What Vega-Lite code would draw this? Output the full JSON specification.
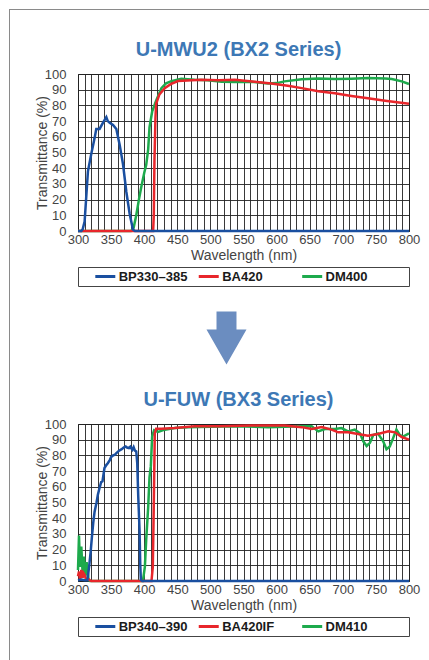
{
  "$schema": "https://vega.github.io/schema/vega-lite/v6.json",
  "background": "white",
  "padding": {"left": 9, "top": 9, "right": 0, "bottom": 0},
  "spacing": 0,
  "config": {
    "font": "Liberation Sans",
    "view": {"stroke": "#222", "strokeWidth": 1},
    "axis": {
      "ticks": false,
      "domain": false,
      "grid": true,
      "gridColor": "#222",
      "gridWidth": 0.9,
      "gridOpacity": 1,
      "labelFontSize": 13,
      "labelColor": "#444",
      "labelOverlap": false,
      "labelFlush": false,
      "titleFontSize": 14,
      "titleFontWeight": "normal",
      "titleColor": "#444"
    },
    "title": {"fontSize": 20, "fontWeight": "bold", "color": "#3d78b5", "anchor": "middle", "baseline": "alphabetic", "offset": 8, "dx": -5}
  },
  "datasets": {
    "top": [
      {"s": "DM400", "w": 300, "t": 0}, {"s": "DM400", "w": 380, "t": 0}, {"s": "DM400", "w": 384, "t": 2}, {"s": "DM400", "w": 388, "t": 10}, {"s": "DM400", "w": 392, "t": 20}, {"s": "DM400", "w": 395.6, "t": 28}, {"s": "DM400", "w": 400, "t": 37}, {"s": "DM400", "w": 403, "t": 42}, {"s": "DM400", "w": 406, "t": 52}, {"s": "DM400", "w": 408, "t": 66}, {"s": "DM400", "w": 412, "t": 76}, {"s": "DM400", "w": 418, "t": 83}, {"s": "DM400", "w": 426, "t": 91}, {"s": "DM400", "w": 433, "t": 94}, {"s": "DM400", "w": 441, "t": 95.5}, {"s": "DM400", "w": 456, "t": 97}, {"s": "DM400", "w": 476, "t": 96.4}, {"s": "DM400", "w": 496, "t": 96}, {"s": "DM400", "w": 517, "t": 95}, {"s": "DM400", "w": 537, "t": 94.9}, {"s": "DM400", "w": 562, "t": 95}, {"s": "DM400", "w": 587, "t": 94}, {"s": "DM400", "w": 600, "t": 94.2}, {"s": "DM400", "w": 612, "t": 95.3}, {"s": "DM400", "w": 638, "t": 96.6}, {"s": "DM400", "w": 663, "t": 97.2}, {"s": "DM400", "w": 688, "t": 96.8}, {"s": "DM400", "w": 713, "t": 97}, {"s": "DM400", "w": 738, "t": 97.4}, {"s": "DM400", "w": 764, "t": 97.2}, {"s": "DM400", "w": 774, "t": 96.8}, {"s": "DM400", "w": 789, "t": 95.3}, {"s": "DM400", "w": 800, "t": 93.6},
      {"s": "BA420", "w": 300, "t": 0}, {"s": "BA420", "w": 413.5, "t": 0}, {"s": "BA420", "w": 414.5, "t": 10}, {"s": "BA420", "w": 415.5, "t": 45}, {"s": "BA420", "w": 417, "t": 72}, {"s": "BA420", "w": 418, "t": 81}, {"s": "BA420", "w": 423, "t": 87}, {"s": "BA420", "w": 431, "t": 91}, {"s": "BA420", "w": 440, "t": 93.5}, {"s": "BA420", "w": 451, "t": 95.5}, {"s": "BA420", "w": 486, "t": 96.4}, {"s": "BA420", "w": 512, "t": 96}, {"s": "BA420", "w": 537, "t": 96.4}, {"s": "BA420", "w": 567, "t": 95}, {"s": "BA420", "w": 592, "t": 94}, {"s": "BA420", "w": 617, "t": 92.5}, {"s": "BA420", "w": 638, "t": 91}, {"s": "BA420", "w": 663, "t": 89}, {"s": "BA420", "w": 688, "t": 87.7}, {"s": "BA420", "w": 713, "t": 86}, {"s": "BA420", "w": 738, "t": 84.5}, {"s": "BA420", "w": 764, "t": 83}, {"s": "BA420", "w": 800, "t": 81},
      {"s": "BP330–385", "w": 300, "t": 0}, {"s": "BP330–385", "w": 305, "t": 0}, {"s": "BP330–385", "w": 307, "t": 1}, {"s": "BP330–385", "w": 310, "t": 6}, {"s": "BP330–385", "w": 315, "t": 38}, {"s": "BP330–385", "w": 320, "t": 49}, {"s": "BP330–385", "w": 325, "t": 59}, {"s": "BP330–385", "w": 327.6, "t": 65}, {"s": "BP330–385", "w": 332.6, "t": 65}, {"s": "BP330–385", "w": 337.8, "t": 69}, {"s": "BP330–385", "w": 342.8, "t": 72.5}, {"s": "BP330–385", "w": 345, "t": 70}, {"s": "BP330–385", "w": 347.8, "t": 69}, {"s": "BP330–385", "w": 352.9, "t": 67.5}, {"s": "BP330–385", "w": 357.9, "t": 65}, {"s": "BP330–385", "w": 362.9, "t": 55}, {"s": "BP330–385", "w": 368, "t": 42.5}, {"s": "BP330–385", "w": 373, "t": 25}, {"s": "BP330–385", "w": 378, "t": 11}, {"s": "BP330–385", "w": 383, "t": 1}, {"s": "BP330–385", "w": 386, "t": 0}, {"s": "BP330–385", "w": 800, "t": 0}
    ],
    "bottom": [
      {"s": "DM410", "w": 300, "t": 7}, {"s": "DM410", "w": 301.5, "t": 29}, {"s": "DM410", "w": 303, "t": 9}, {"s": "DM410", "w": 305, "t": 22}, {"s": "DM410", "w": 307, "t": 5}, {"s": "DM410", "w": 309, "t": 15.5}, {"s": "DM410", "w": 311, "t": 3}, {"s": "DM410", "w": 313, "t": 12}, {"s": "DM410", "w": 316, "t": 0.6}, {"s": "DM410", "w": 318, "t": 0}, {"s": "DM410", "w": 398, "t": 0}, {"s": "DM410", "w": 401, "t": 9}, {"s": "DM410", "w": 403, "t": 26}, {"s": "DM410", "w": 406, "t": 47}, {"s": "DM410", "w": 408, "t": 66}, {"s": "DM410", "w": 410, "t": 73}, {"s": "DM410", "w": 412, "t": 92}, {"s": "DM410", "w": 415, "t": 96}, {"s": "DM410", "w": 421, "t": 95}, {"s": "DM410", "w": 431, "t": 96.4}, {"s": "DM410", "w": 446, "t": 97.4}, {"s": "DM410", "w": 466, "t": 98}, {"s": "DM410", "w": 500, "t": 98.3}, {"s": "DM410", "w": 537, "t": 98.5}, {"s": "DM410", "w": 587, "t": 98}, {"s": "DM410", "w": 638, "t": 98.5}, {"s": "DM410", "w": 653, "t": 98.5}, {"s": "DM410", "w": 663, "t": 95.3}, {"s": "DM410", "w": 673, "t": 96.8}, {"s": "DM410", "w": 688, "t": 96.8}, {"s": "DM410", "w": 698, "t": 97.4}, {"s": "DM410", "w": 708, "t": 95.3}, {"s": "DM410", "w": 718, "t": 96.4}, {"s": "DM410", "w": 726, "t": 94}, {"s": "DM410", "w": 731, "t": 89}, {"s": "DM410", "w": 736, "t": 86}, {"s": "DM410", "w": 741, "t": 88}, {"s": "DM410", "w": 746, "t": 93}, {"s": "DM410", "w": 753, "t": 94}, {"s": "DM410", "w": 761, "t": 89}, {"s": "DM410", "w": 766, "t": 84}, {"s": "DM410", "w": 771, "t": 85.7}, {"s": "DM410", "w": 776, "t": 91}, {"s": "DM410", "w": 781, "t": 96.4}, {"s": "DM410", "w": 786, "t": 93}, {"s": "DM410", "w": 791, "t": 92}, {"s": "DM410", "w": 800, "t": 94},
      {"s": "BA420IF", "w": 300, "t": 3}, {"s": "BA420IF", "w": 301.5, "t": 6}, {"s": "BA420IF", "w": 303, "t": 1}, {"s": "BA420IF", "w": 305, "t": 7}, {"s": "BA420IF", "w": 307, "t": 2}, {"s": "BA420IF", "w": 308.5, "t": 5}, {"s": "BA420IF", "w": 310, "t": 4}, {"s": "BA420IF", "w": 312, "t": 1}, {"s": "BA420IF", "w": 315, "t": 1.5}, {"s": "BA420IF", "w": 318, "t": 0.5}, {"s": "BA420IF", "w": 320, "t": 0}, {"s": "BA420IF", "w": 411, "t": 0}, {"s": "BA420IF", "w": 413, "t": 9}, {"s": "BA420IF", "w": 414, "t": 35}, {"s": "BA420IF", "w": 415, "t": 64}, {"s": "BA420IF", "w": 416, "t": 94}, {"s": "BA420IF", "w": 418, "t": 97}, {"s": "BA420IF", "w": 426, "t": 97}, {"s": "BA420IF", "w": 446, "t": 97.4}, {"s": "BA420IF", "w": 476, "t": 98.5}, {"s": "BA420IF", "w": 512, "t": 98.5}, {"s": "BA420IF", "w": 562, "t": 99}, {"s": "BA420IF", "w": 612, "t": 99}, {"s": "BA420IF", "w": 638, "t": 98}, {"s": "BA420IF", "w": 653, "t": 96.8}, {"s": "BA420IF", "w": 668, "t": 98}, {"s": "BA420IF", "w": 683, "t": 96.4}, {"s": "BA420IF", "w": 693, "t": 94.7}, {"s": "BA420IF", "w": 708, "t": 94.7}, {"s": "BA420IF", "w": 723, "t": 93.6}, {"s": "BA420IF", "w": 738, "t": 92.5}, {"s": "BA420IF", "w": 753, "t": 93.6}, {"s": "BA420IF", "w": 769, "t": 95.3}, {"s": "BA420IF", "w": 779, "t": 94.7}, {"s": "BA420IF", "w": 789, "t": 91.7}, {"s": "BA420IF", "w": 800, "t": 90},
      {"s": "BP340–390", "w": 300, "t": 0.5}, {"s": "BP340–390", "w": 305, "t": 1}, {"s": "BP340–390", "w": 310, "t": 0.5}, {"s": "BP340–390", "w": 314, "t": 0.5}, {"s": "BP340–390", "w": 315, "t": 3}, {"s": "BP340–390", "w": 317, "t": 10}, {"s": "BP340–390", "w": 319, "t": 18}, {"s": "BP340–390", "w": 321, "t": 28}, {"s": "BP340–390", "w": 323, "t": 37}, {"s": "BP340–390", "w": 325, "t": 44}, {"s": "BP340–390", "w": 328, "t": 50}, {"s": "BP340–390", "w": 330, "t": 55}, {"s": "BP340–390", "w": 333, "t": 60}, {"s": "BP340–390", "w": 335, "t": 63}, {"s": "BP340–390", "w": 337, "t": 63.5}, {"s": "BP340–390", "w": 340, "t": 72}, {"s": "BP340–390", "w": 343, "t": 74}, {"s": "BP340–390", "w": 345, "t": 75}, {"s": "BP340–390", "w": 348, "t": 77}, {"s": "BP340–390", "w": 350, "t": 79}, {"s": "BP340–390", "w": 353, "t": 80}, {"s": "BP340–390", "w": 356, "t": 80.5}, {"s": "BP340–390", "w": 358, "t": 81.5}, {"s": "BP340–390", "w": 362, "t": 83}, {"s": "BP340–390", "w": 366, "t": 84}, {"s": "BP340–390", "w": 369, "t": 85}, {"s": "BP340–390", "w": 372, "t": 85.7}, {"s": "BP340–390", "w": 374, "t": 85}, {"s": "BP340–390", "w": 377, "t": 84.7}, {"s": "BP340–390", "w": 379, "t": 85.5}, {"s": "BP340–390", "w": 382, "t": 83.6}, {"s": "BP340–390", "w": 384, "t": 85.3}, {"s": "BP340–390", "w": 386, "t": 83}, {"s": "BP340–390", "w": 388, "t": 82.5}, {"s": "BP340–390", "w": 389.5, "t": 75}, {"s": "BP340–390", "w": 391, "t": 54}, {"s": "BP340–390", "w": 393, "t": 32}, {"s": "BP340–390", "w": 394, "t": 11}, {"s": "BP340–390", "w": 395, "t": 0.6}, {"s": "BP340–390", "w": 397, "t": 0}, {"s": "BP340–390", "w": 800, "t": 0}
    ],
    "legTop": [{"name": "BP330–385"}, {"name": "BA420"}, {"name": "DM400"}],
    "legBottom": [{"name": "BP340–390"}, {"name": "BA420IF"}, {"name": "DM410"}],
    "arrow": [{"k": "arrow"}],
    "none": []
  },
  "resolve": {"scale": {"color": "independent", "x": "independent", "y": "independent"}},
  "vconcat": [
    {
      "width": 420,
      "height": 1,
      "view": {"stroke": null, "fill": "#8a8a8a"},
      "data": {"name": "none"},
      "mark": "point",
      "encoding": {}
    },
    {
      "spacing": 24,
      "resolve": {"scale": {"color": "independent", "x": "independent", "y": "independent"}},
      "hconcat": [
        {
          "width": 1,
          "height": 650,
          "view": {"stroke": null, "fill": "#8a8a8a"},
          "data": {"name": "none"},
          "mark": "point",
          "encoding": {}
        },
        {
          "spacing": 3,
          "resolve": {"scale": {"color": "independent", "x": "independent", "y": "independent"}},
          "vconcat": [
            {
              "width": 331,
              "height": 26,
              "view": {"stroke": null},
              "data": {"name": "none"},
              "mark": "point",
              "encoding": {}
            },
            {
              "title": {"text": "U-MWU2 (BX2 Series)"},
              "width": 331,
              "height": 157,
              "data": {"name": "top"},
              "mark": {"type": "line", "strokeWidth": 2.5},
              "encoding": {
                "x": {"field": "w", "type": "quantitative", "scale": {"domain": [300, 800], "nice": false, "zero": false},
                  "axis": {"values": [300,310,320,330,340,350,360,370,380,390,400,410,420,430,440,450,460,470,480,490,500,510,520,530,540,550,560,570,580,590,600,610,620,630,640,650,660,670,680,690,700,710,720,730,740,750,760,770,780,790,800], "labelExpr": "datum.value % 50 === 0 ? datum.label : ''", "labelPadding": 2, "title": "Wavelength (nm)", "titlePadding": 2}},
                "y": {"field": "t", "type": "quantitative", "scale": {"domain": [0, 100], "nice": false},
                  "axis": {"values": [0,10,20,30,40,50,60,70,80,90,100], "labelPadding": 12, "title": "Transmittance (%)", "titleX": -31.7, "titleBaseline": "alphabetic"}},
                "color": {"field": "s", "type": "nominal", "sort": null, "scale": {"domain": ["BP330–385", "BA420", "DM400"], "range": ["#1a4fa0", "#e8262b", "#1daa4c"]}, "legend": null}
              }
            },
            {
              "width": 331,
              "height": 19,
              "view": {"stroke": "#444", "strokeWidth": 1},
              "data": {"name": "legTop"},
              "encoding": {
                "x": {"field": "name", "type": "nominal", "sort": null, "scale": {"type": "point", "padding": 0.6, "align": 0.22}, "axis": null}
              },
              "layer": [
                {"mark": {"type": "point", "shape": "stroke", "size": 400, "strokeWidth": 3, "filled": false, "opacity": 1},
                 "encoding": {"color": {"field": "name", "type": "nominal", "sort": null, "scale": {"domain": ["BP330–385", "BA420", "DM400"], "range": ["#1a4fa0", "#e8262b", "#1daa4c"]}, "legend": null}}},
                {"mark": {"type": "text", "align": "left", "baseline": "middle", "dx": 13.4, "fontSize": 13, "fontWeight": "bold", "color": "#1a1a1a"},
                 "encoding": {"text": {"field": "name"}}}
              ]
            },
            {
              "width": 297,
              "height": 96,
              "view": {"stroke": null},
              "data": {"name": "arrow"},
              "mark": {"type": "point", "shape": "M -0.377 -1 L 0.377 -1 L 0.377 -0.321 L 0.755 -0.321 L 0 1 L -0.755 -0.321 L -0.377 -0.321 Z", "size": 2809, "filled": true, "color": "#6b8dc0", "opacity": 1, "strokeWidth": 0},
              "encoding": {}
            },
            {
              "title": {"text": "U-FUW (BX3 Series)"},
              "width": 331,
              "height": 157,
              "data": {"name": "bottom"},
              "mark": {"type": "line", "strokeWidth": 2.5},
              "encoding": {
                "x": {"field": "w", "type": "quantitative", "scale": {"domain": [300, 800], "nice": false, "zero": false},
                  "axis": {"values": [300,310,320,330,340,350,360,370,380,390,400,410,420,430,440,450,460,470,480,490,500,510,520,530,540,550,560,570,580,590,600,610,620,630,640,650,660,670,680,690,700,710,720,730,740,750,760,770,780,790,800], "labelExpr": "datum.value % 50 === 0 ? datum.label : ''", "labelPadding": 2, "title": "Wavelength (nm)", "titlePadding": 2}},
                "y": {"field": "t", "type": "quantitative", "scale": {"domain": [0, 100], "nice": false},
                  "axis": {"values": [0,10,20,30,40,50,60,70,80,90,100], "labelPadding": 12, "title": "Transmittance (%)", "titleX": -31.7, "titleBaseline": "alphabetic"}},
                "color": {"field": "s", "type": "nominal", "sort": null, "scale": {"domain": ["BP340–390", "BA420IF", "DM410"], "range": ["#1a4fa0", "#e8262b", "#1daa4c"]}, "legend": null}
              }
            },
            {
              "width": 331,
              "height": 19,
              "view": {"stroke": "#444", "strokeWidth": 1},
              "data": {"name": "legBottom"},
              "encoding": {
                "x": {"field": "name", "type": "nominal", "sort": null, "scale": {"type": "point", "padding": 0.6, "align": 0.22}, "axis": null}
              },
              "layer": [
                {"mark": {"type": "point", "shape": "stroke", "size": 400, "strokeWidth": 3, "filled": false, "opacity": 1},
                 "encoding": {"color": {"field": "name", "type": "nominal", "sort": null, "scale": {"domain": ["BP340–390", "BA420IF", "DM410"], "range": ["#1a4fa0", "#e8262b", "#1daa4c"]}, "legend": null}}},
                {"mark": {"type": "text", "align": "left", "baseline": "middle", "dx": 13.4, "fontSize": 13, "fontWeight": "bold", "color": "#1a1a1a"},
                 "encoding": {"text": {"field": "name"}}}
              ]
            }
          ]
        }
      ]
    }
  ]
}
